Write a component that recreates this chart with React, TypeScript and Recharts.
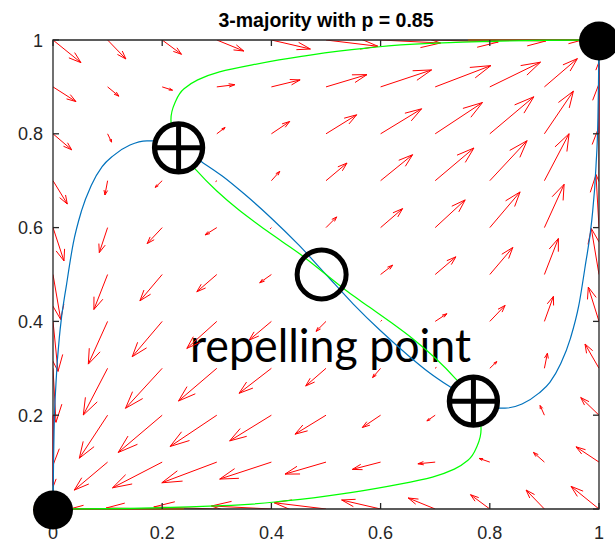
import { ComposedChart, Line, Scatter, XAxis, YAxis, Customized } from "recharts";

// quiver grid (rows run from y = 1 down to y = 0)
const gridX = [0, 0.1, 0.2, 0.3, 0.4, 0.5, 0.6, 0.7, 0.8, 0.9, 1];
const gridY = [1, 0.9, 0.8, 0.7, 0.6, 0.5, 0.4, 0.3, 0.2, 0.1, 0];

// arrow components as drawn, in hundredths of an axis unit
const arrowU = [
  [5.13, 3.35, 3.53, 4.95, 7.14, 9.52, 10.99, 11.54, 10.26, 6.59, 0],
  [4.21, 2.07, 1.89, 3.3, 5.26, 7.51, 9.34, 10.2, 9.29, 6.04, 0],
  [3.42, 0.73, 0.09, 1.52, 3.35, 5.62, 7.51, 8.66, 8.06, 5.31, 0],
  [2.62, -0.49, -1.28, -0.18, 1.52, 3.85, 5.86, 7.09, 6.83, 4.52, 0],
  [2.01, -1.52, -2.75, -2.14, -0.18, 1.96, 4.03, 5.49, 5.55, 3.61, -0.55],
  [1.41, -2.51, -4.08, -3.66, -2.14, 0, 2.2, 3.79, 4.21, 2.56, -1.41],
  [0.92, -3.53, -5.49, -5.49, -4.08, -1.83, 0.18, 2.14, 2.8, 1.65, -1.96],
  [0.55, -4.45, -6.72, -7.01, -5.92, -3.72, -1.47, 0.18, 1.28, 0.55, -2.56],
  [0, -5.18, -8.06, -8.55, -7.64, -5.68, -3.35, -1.52, -0.09, -0.79, -3.35],
  [0, -6.1, -9.1, -10.07, -9.47, -7.51, -5.18, -3.17, -1.96, -2.01, -4.21],
  [0, -6.59, -10.26, -11.54, -10.99, -9.52, -7.14, -4.95, -3.53, -3.35, -5.13],
];
const arrowV = [
  [-4.84, -4.05, -3.05, -2.35, -1.92, -1.34, -0.64, -0.43, -0.21, -0.11, 0],
  [-3.13, -1.98, -0.7, 0.47, 1.49, 2.62, 3.62, 4.54, 5.27, 6.03, 5.33],
  [-3.41, -1.77, -0.21, 1.34, 2.62, 4.05, 5.33, 6.67, 7.89, 9.1, 10.66],
  [-4.97, -3.05, -1.43, -0.17, 1.98, 3.77, 5.54, 6.97, 8.53, 10.02, 11.51],
  [-7.1, -5.33, -3.41, -1.56, -0.21, 2.28, 4.05, 5.91, 7.61, 9.23, 11.3],
  [-9.59, -7.46, -5.61, -3.69, -1.77, 0, 1.98, 3.77, 5.76, 7.68, 9.81],
  [-10.66, -9.1, -7.53, -5.76, -3.99, -2.13, 0.21, 1.64, 3.41, 5.33, 7.31],
  [-11.51, -9.96, -8.53, -6.97, -5.33, -3.77, -1.98, 0.17, 1.43, 3.2, 5.18],
  [-10.66, -9.17, -7.95, -6.67, -5.48, -4.05, -2.62, -1.22, 0.21, 2.07, 3.77],
  [-5.33, -5.97, -5.48, -4.41, -3.62, -2.56, -1.56, -0.36, 0.79, 2.07, 3.26],
  [0, 0.11, 0.21, 0.43, 0.64, 1.34, 1.92, 2.35, 3.05, 4.05, 4.84],
];

const axisTicks = [0, 0.2, 0.4, 0.6, 0.8, 1];

const blueCurve = [
  [0, 0], [0.0005, 0.05], [0.001, 0.1], [0.002, 0.168], [0.0055, 0.269], [0.013, 0.382],
  [0.025, 0.48], [0.037, 0.566], [0.052, 0.635], [0.07, 0.69], [0.09, 0.73], [0.11, 0.753],
  [0.141, 0.776], [0.172, 0.785], [0.2, 0.785], [0.23, 0.77], [0.275, 0.738], [0.31, 0.71],
  [0.35, 0.672], [0.4, 0.62], [0.45, 0.563], [0.5, 0.5], [0.55, 0.437], [0.6, 0.38],
  [0.65, 0.328], [0.69, 0.29], [0.725, 0.262], [0.77, 0.23],
  [0.8, 0.215], [0.828, 0.215], [0.859, 0.224], [0.89, 0.247], [0.91, 0.27], [0.93, 0.31],
  [0.948, 0.365], [0.963, 0.434], [0.975, 0.52], [0.987, 0.618], [0.9945, 0.731], [0.998, 0.832],
  [0.999, 0.9], [0.9995, 0.95], [1, 1],
];

const greenCurve = [
  [0, 0], [0.1, 0.001], [0.2, 0.003], [0.31, 0.007], [0.43, 0.018], [0.545, 0.035],
  [0.635, 0.053], [0.695, 0.068], [0.735, 0.085], [0.76, 0.104], [0.777, 0.135], [0.784, 0.17],
  [0.782, 0.2], [0.77, 0.23], [0.738, 0.277], [0.7, 0.322], [0.66, 0.362], [0.62, 0.397],
  [0.58, 0.43], [0.54, 0.463], [0.5, 0.5], [0.46, 0.537], [0.42, 0.57], [0.38, 0.603],
  [0.34, 0.638], [0.3, 0.678], [0.262, 0.723], [0.23, 0.77], [0.218, 0.8], [0.216, 0.83],
  [0.223, 0.865], [0.24, 0.896], [0.265, 0.915], [0.305, 0.932], [0.365, 0.947], [0.455, 0.965],
  [0.57, 0.982], [0.69, 0.993], [0.8, 0.997], [0.9, 0.999], [1, 1],
];

// darker overlaps along the box edges
const edgeBrown = [[0.76, 1], [0.97, 1], null, [0.03, 0], [0.24, 0]];
const edgeDarkRed = [[1, 0.8], [1, 0.95], null, [0, 0.05], [0, 0.2]];

// axes box corners
const boxCorners = [[0, 0], [1, 0], [1, 1], [0, 1], [0, 0]];

const sinks = [{ x: 0, y: 0 }, { x: 1, y: 1 }];
const saddles = [{ x: 0.23, y: 0.77 }, { x: 0.77, y: 0.23 }];
const sources = [{ x: 0.492, y: 0.5 }];

const AXIS = "#262626";
const FONT = "'Liberation Sans', Arial, Helvetica, sans-serif";

const toPts = (arr: (number[] | null)[]) =>
  arr.map((p, i) => (p ? { x: p[0], y: p[1] } : { x: arr[i - 1]![0], y: null }));

// MATLAB-style quiver: shaft plus two barbs
const arrowPath: { x: number; y: number | null }[] = [];
gridY.forEach((y, r) =>
  gridX.forEach((x, c) => {
    const u = arrowU[r][c] / 100;
    const v = arrowV[r][c] / 100;
    if (u === 0 && v === 0) return;
    const tx = x + u;
    const ty = y + v;
    const a = 0.33;
    const b = 0.33;
    arrowPath.push(
      { x, y },
      { x: tx, y: ty },
      { x: tx, y: null },
      { x: tx - a * (u + b * v), y: ty - a * (v - b * u) },
      { x: tx, y: ty },
      { x: tx - a * (u - b * v), y: ty - a * (v + b * u) },
      { x: tx, y: null }
    );
  })
);

const fmt = (v: number) => (v === 0 || v === 1 ? String(v) : v.toFixed(1));

function BottomTick({ x, y, payload }: any) {
  return (
    <g>
      <line x1={x} x2={x} y1={y} y2={y - 6} stroke={AXIS} strokeWidth={1.3} />
      <text x={x} y={y + 30} textAnchor="middle" fontFamily={FONT} fontSize={18} fill={AXIS}>
        {fmt(payload.value)}
      </text>
    </g>
  );
}

function LeftTick({ x, y, payload }: any) {
  return (
    <g>
      <line x1={x} x2={x + 6} y1={y} y2={y} stroke={AXIS} strokeWidth={1.3} />
      <text x={x - 10} y={y + 6.5} textAnchor="end" fontFamily={FONT} fontSize={18} fill={AXIS}>
        {fmt(payload.value)}
      </text>
    </g>
  );
}

function TopTick({ x, y }: any) {
  return <line x1={x} x2={x} y1={y} y2={y + 6} stroke={AXIS} strokeWidth={1.3} />;
}

function RightTick({ x, y }: any) {
  return <line x1={x} x2={x - 6} y1={y} y2={y} stroke={AXIS} strokeWidth={1.3} />;
}

const tickOnly = { tickLine: false, tickSize: 0, tickMargin: 0, axisLine: false, interval: 0 as const };

export default function App() {
  return (
    <div>
      <style>{"body{margin:0}"}</style>
      <ComposedChart width={615} height={542} margin={{ top: 39, right: 15, bottom: 0, left: 0 }}>
        <XAxis xAxisId="main" dataKey="x" type="number" domain={[0, 1]} allowDataOverflow ticks={axisTicks}
          tick={BottomTick} height={33} {...tickOnly} />
        <YAxis yAxisId="main" type="number" domain={[0, 1]} allowDataOverflow ticks={axisTicks}
          tick={LeftTick} width={53} {...tickOnly} />
        <XAxis xAxisId="top" orientation="top" dataKey="x" type="number" domain={[0, 1]} allowDataOverflow
          ticks={axisTicks} tick={TopTick} height={1} {...tickOnly} />
        <YAxis yAxisId="right" orientation="right" type="number" domain={[0, 1]} allowDataOverflow
          ticks={axisTicks} tick={RightTick} width={1} {...tickOnly} />
        <XAxis xAxisId="m" dataKey="x" type="number" domain={[0, 1]} hide height={0} />
        <YAxis yAxisId="m" dataKey="y" type="number" domain={[0, 1]} hide width={0} />

        <Line xAxisId="top" yAxisId="right" data={toPts(boxCorners)} dataKey="y" stroke="none" dot={false}
          activeDot={false} isAnimationActive={false} />
        <Line xAxisId="main" yAxisId="main" data={arrowPath} dataKey="y" type="linear" stroke="#ff0000"
          strokeWidth={1} dot={false} activeDot={false} connectNulls={false} isAnimationActive={false} />
        <Line xAxisId="m" yAxisId="m" data={toPts(boxCorners)} dataKey="y" type="linear" stroke={AXIS}
          strokeWidth={1.3} dot={false} activeDot={false} isAnimationActive={false} />
        <Line xAxisId="m" yAxisId="m" data={toPts(edgeBrown)} dataKey="y" type="linear" stroke="#9a5a14"
          strokeWidth={1.6} dot={false} activeDot={false} isAnimationActive={false} />
        <Line xAxisId="m" yAxisId="m" data={toPts(edgeDarkRed)} dataKey="y" type="linear" stroke="#a0283c"
          strokeWidth={1.6} dot={false} activeDot={false} isAnimationActive={false} />
        <Line xAxisId="m" yAxisId="m" data={toPts(blueCurve)} dataKey="y" type="monotoneX" stroke="#0072bd"
          strokeWidth={1.2} dot={false} activeDot={false} isAnimationActive={false} />
        <Line xAxisId="m" yAxisId="m" data={toPts(greenCurve)} dataKey="y" type="monotoneY" stroke="#00ff00"
          strokeWidth={1.2} dot={false} activeDot={false} isAnimationActive={false} />

        <Scatter xAxisId="m" yAxisId="m" data={sources} isAnimationActive={false}
          shape={(p: any) => <circle cx={p.cx} cy={p.cy} r={24.5} fill="none" stroke="#000" strokeWidth={5} />} />
        <Scatter xAxisId="m" yAxisId="m" data={saddles} isAnimationActive={false}
          shape={(p: any) => (
            <g>
              <circle cx={p.cx} cy={p.cy} r={24} fill="#fff" stroke="#000" strokeWidth={5.3} />
              <line x1={p.cx - 24} x2={p.cx + 24} y1={p.cy} y2={p.cy} stroke="#000" strokeWidth={5} />
              <line x1={p.cx} x2={p.cx} y1={p.cy - 24} y2={p.cy + 24} stroke="#000" strokeWidth={5} />
            </g>
          )} />
        <Scatter xAxisId="m" yAxisId="m" data={sinks} isAnimationActive={false} zIndex={2000}
          shape={(p: any) => <ellipse cx={p.cx} cy={p.cy + 1} rx={20} ry={19.5} fill="#000" />} />

        <Customized component={() => (
          <g>
            <text x={326} y={27} textAnchor="middle" fontFamily={FONT} fontWeight="bold" fontSize={19.5} fill="#000">
              3-majority with p = 0.85
            </text>
            <text x={190} y={362} fontFamily="Lato, Carlito, sans-serif" fontSize={47} fill="#000"
              textLength={281} lengthAdjust="spacingAndGlyphs">
              repelling point
            </text>
          </g>
        )} />
      </ComposedChart>
    </div>
  );
}
